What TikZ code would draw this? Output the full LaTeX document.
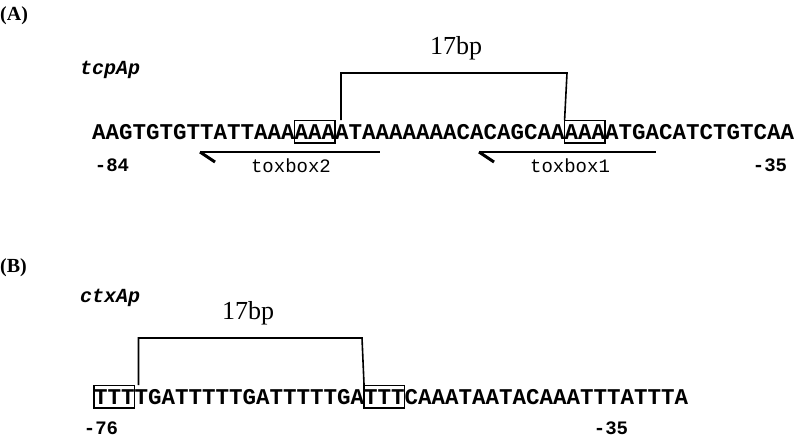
\documentclass[tikz,border=0pt]{standalone}
\usepackage{fontspec}
\setmainfont{Liberation Serif}
\setmonofont{Liberation Mono}
\usetikzlibrary{positioning}

\begin{document}
\begin{tikzpicture}[x=1pt,y=-1pt]
    \tikzset{
      seq/.style={font=\ttfamily\bfseries\fontsize{22.5}{24}\selectfont,inner sep=0pt,outer sep=0pt,anchor=base west},
      seqbox/.style={seq,draw,line width=1.2pt,inner ysep=4pt},
      position/.style={font=\ttfamily\bfseries\fontsize{19}{21}\selectfont,inner sep=0pt},
      promoter/.style={font=\ttfamily\bfseries\itshape\fontsize{20}{22}\selectfont,inner sep=0pt,anchor=west},
      panel/.style={font=\bfseries\fontsize{20}{22}\selectfont,inner sep=0pt,anchor=west},
      bplabel/.style={font=\fontsize{26}{28}\selectfont,inner sep=0pt},
      toxlabel/.style={font=\ttfamily\fontsize{19}{21}\selectfont,inner sep=0pt},
      bracket/.style={line width=1.6pt},
      strand/.style={line width=1.6pt},
      hook/.style={line width=3pt}
    }
    \useasboundingbox (0,0) rectangle (810,439);

    % (A) tcpA promoter
    \node[panel](pA) at (0,16){(A)};
    \node[promoter](tcp) at (80,70){tcpAp};
    \node[seq](a1) at (92,139){AAGTGTGTTATTAAA};
    \node[seqbox,right=0pt of a1.base east,anchor=base west](abox1){AAA};
    \node[seq,right=0pt of abox1.base east,anchor=base west](a2){ATAAAAAAACACAGCAA};
    \node[seqbox,right=0pt of a2.base east,anchor=base west](abox2){AAA};
    \node[seq,right=0pt of abox2.base east,anchor=base west](a3){ATGACATCTGTCAA};
    \node[position](aleft) at (112,165){-84};
    \node[position](aright) at (770,165){-35};
    \coordinate (ab2) at (567,73);
    \draw[bracket] (abox1.north east) ++(6,0) |- (ab2) -- (abox2.north west);
    \node[bplabel](abp) at (456,48){17bp};
    % toxboxes
    \coordinate (t2a) at (200,152);
    \coordinate (t2b) at (380,152);
    \coordinate (t1a) at (479,152);
    \coordinate (t1b) at (656,152);
    \draw[strand] (t2a) -- (t2b);
    \draw[hook] (t2a) -- ++(15,10);
    \draw[strand] (t1a) -- (t1b);
    \draw[hook] (t1a) -- ++(15,10);
    \node[toxlabel](tox2) at (291,166){toxbox2};
    \node[toxlabel](tox1) at (570,166){toxbox1};

    % (B) ctxA promoter
    \node[panel](pB) at (0,268){(B)};
    \node[promoter](ctx) at (80,298){ctxAp};
    \node[seqbox](bbox1) at (94,404){TTT};
    \node[seq,right=0pt of bbox1.base east,anchor=base west](b1){TGATTTTTGATTTTTGA};
    \node[seqbox,right=0pt of b1.base east,anchor=base west](bbox2){TTT};
    \node[seq,right=0pt of bbox2.base east,anchor=base west](b2){CAAATAATACAAATTTATTTA};
    \node[position](bleft) at (101,428){-76};
    \node[position](bright) at (611,428){-35};
    \coordinate (bb2) at (362,338);
    \draw[bracket] (bbox1.north east) ++(4,0) |- (bb2) -- (bbox2.north west);
    \node[bplabel](bbp) at (248,313){17bp};
\end{tikzpicture}
\end{document}
